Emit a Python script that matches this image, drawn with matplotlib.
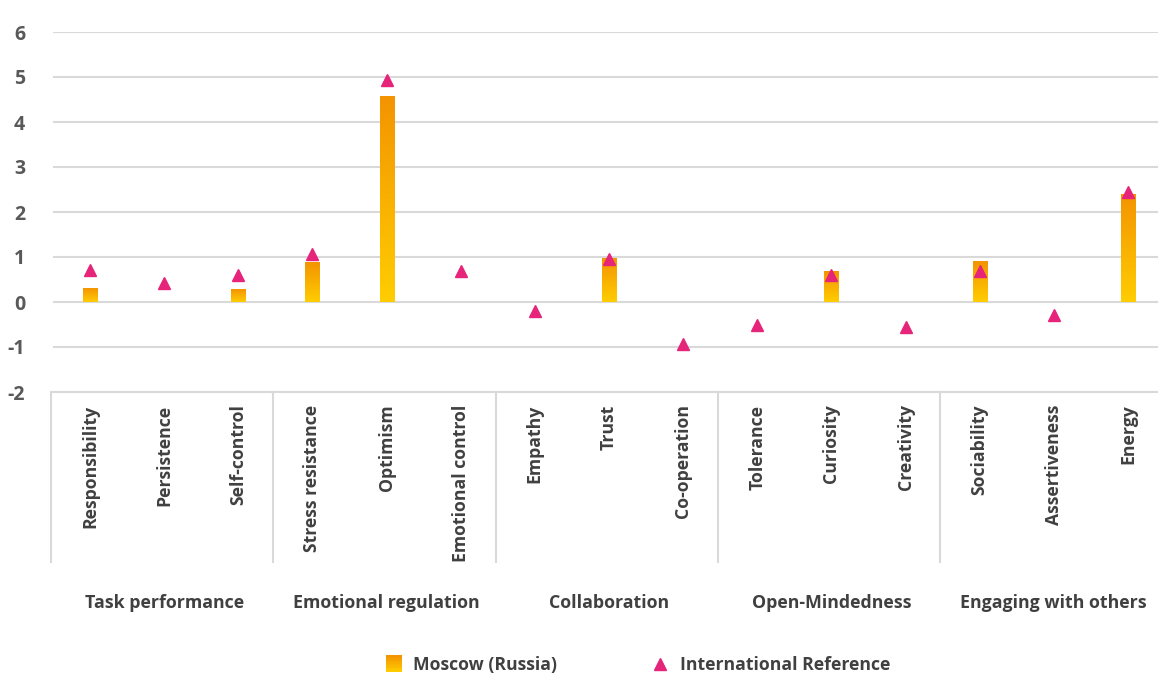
import numpy as np
import matplotlib
matplotlib.use("Agg")
import matplotlib.pyplot as plt
import matplotlib.transforms as mtransforms
from matplotlib.colors import LinearSegmentedColormap
from matplotlib.lines import Line2D
from matplotlib.patches import Rectangle
from matplotlib.legend_handler import HandlerBase

plt.rcParams['font.family'] = ['Open Sans', 'DejaVu Sans']

# ---- data ----
skills = ['Responsibility', 'Persistence', 'Self-control',
          'Stress resistance', 'Optimism', 'Emotional control',
          'Empathy', 'Trust', 'Co-operation',
          'Tolerance', 'Curiosity', 'Creativity',
          'Sociability', 'Assertiveness', 'Energy']
groups = ['Task performance', 'Emotional regulation', 'Collaboration',
          'Open-Mindedness', 'Engaging with others']
moscow = [0.31, 0.0, 0.27, 0.88, 4.57, 0.0, 0.0, 0.97, 0.0,
          0.0, 0.68, 0.0, 0.89, 0.0, 2.39]
intl_ref = [0.72, 0.42, 0.60, 1.07, 4.93, 0.68, -0.20, 0.95, -0.94,
            -0.52, 0.59, -0.55, 0.70, -0.29, 2.45]
yticks = [-2, -1, 0, 1, 2, 3, 4, 5, 6]

text_col = '#595959'
grid_col = '#D9D9D9'
pink = '#E5247A'
grad = LinearSegmentedColormap.from_list('grad', ['#FFCD00', '#F39400'])

W, H = 1158, 675
fig = plt.figure(figsize=(W / 100, H / 100), dpi=100)
ax = fig.add_axes([53 / W, 1 - 392 / H, 1112 / W, 360 / H])

x = np.arange(len(skills))
bw = 0.19
gimg = np.linspace(0, 1, 256).reshape(-1, 1)
for xi, v in zip(x, moscow):
    if v > 0:
        ax.imshow(gimg, cmap=grad, origin='lower', aspect='auto',
                  extent=[xi - bw / 2, xi + bw / 2, 0, v], zorder=2)

ax.plot(x, intl_ref, linestyle='none', marker='^', markersize=9,
        color=pink, zorder=3, clip_on=False)

ax.set_xlim(-0.5, len(skills) - 0.5)
ax.set_ylim(-2, 6)
ax.set_yticks(yticks)
ax.grid(axis='y', color=grid_col, linewidth=1.5, zorder=0)
ax.set_axisbelow(True)
for s in ['top', 'right', 'left']:
    ax.spines[s].set_visible(False)
ax.spines['bottom'].set_color(grid_col)
ax.spines['bottom'].set_linewidth(1.5)

ax.set_yticklabels([str(t) for t in yticks], fontsize=14, fontweight='bold',
                   color=text_col)
ax.tick_params(axis='y', length=0, pad=20)
ax.set_xticks(x)
ax.set_xticklabels(skills, rotation=90, fontsize=12.7, fontweight='bold',
                   color='#404040', va='top')
ax.tick_params(axis='x', length=0, pad=9)

# group dividers and labels
trans = mtransforms.blended_transform_factory(ax.transData, ax.transAxes)
for k in range(len(groups)):
    xb = 3 * k - 0.5
    ax.plot([xb - 0.03, xb - 0.03], [0, -170 / 360], transform=trans,
            color=grid_col, linewidth=1.5, clip_on=False)
    ax.text(3 * k + 1, -211 / 360, groups[k], transform=trans, ha='center',
            va='center', fontsize=12.8, fontweight='bold', color='#404040')


class GradHandler(HandlerBase):
    def create_artists(self, legend, orig, xd, yd, width, height, fontsize, trans):
        n = 12
        side = height * 1.3
        x0 = xd + (width - side) / 2
        y0 = yd + (height - side) / 2
        arts = []
        for i in range(n):
            r = Rectangle((x0, y0 + side * i / n), side, side / n + 0.3,
                          facecolor=grad(i / (n - 1)), edgecolor='none',
                          transform=trans)
            arts.append(r)
        return arts


h1 = Rectangle((0, 0), 1, 1)
h2 = Line2D([], [], linestyle='none', marker='^', markersize=9, color=pink)
leg = fig.legend([h1, h2], ['Moscow (Russia)', 'International Reference'],
                 loc='center', bbox_to_anchor=(637 / W, 1 - 665 / H), ncol=2,
                 frameon=False, handler_map={Rectangle: GradHandler()},
                 prop={'size': 12.7, 'weight': 'bold'}, columnspacing=5.3,
                 handlelength=1.1, handletextpad=0.55)
for t in leg.get_texts():
    t.set_color('#404040')

fig.savefig('out.png', dpi=100)
